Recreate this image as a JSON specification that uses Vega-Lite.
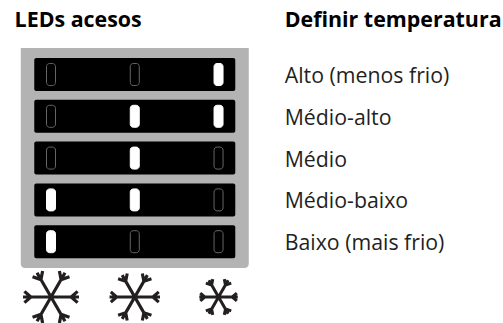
{"$schema":"https://vega.github.io/schema/vega-lite/v6.json","width":503,"height":323,"padding":0,"autosize":{"type":"none"},"background":"#ffffff","view":{"stroke":null},"config":{"axis":{"disable":true}},
"datasets":{
"leds":[{"nivel":5,"led":1,"estado":"apagado"},{"nivel":5,"led":2,"estado":"apagado"},{"nivel":5,"led":3,"estado":"aceso"},{"nivel":4,"led":1,"estado":"apagado"},{"nivel":4,"led":2,"estado":"aceso"},{"nivel":4,"led":3,"estado":"aceso"},{"nivel":3,"led":1,"estado":"apagado"},{"nivel":3,"led":2,"estado":"aceso"},{"nivel":3,"led":3,"estado":"apagado"},{"nivel":2,"led":1,"estado":"aceso"},{"nivel":2,"led":2,"estado":"aceso"},{"nivel":2,"led":3,"estado":"apagado"},{"nivel":1,"led":1,"estado":"aceso"},{"nivel":1,"led":2,"estado":"apagado"},{"nivel":1,"led":3,"estado":"apagado"}],
"niveis":[{"nivel":5,"rotulo":"Alto (menos frio)"},{"nivel":4,"rotulo":"Médio-alto"},{"nivel":3,"rotulo":"Médio"},{"nivel":2,"rotulo":"Médio-baixo"},{"nivel":1,"rotulo":"Baixo (mais frio)"}],
"flocos":[{"led":1},{"led":2},{"led":3}]},
"layer":[
{"data":{"values":[{"nivel":3}]},"mark":{"type":"rect","width":228,"height":220,"fill":"#b3b3b3","cornerRadiusBottomLeft":4,"cornerRadiusBottomRight":4},"encoding":{"x":{"datum":2,"type":"quantitative","scale":{"domain":[0.391,6.396],"range":[0,503],"nice":false,"zero":false},"axis":null},"y":{"field":"nivel","type":"quantitative","scale":{"domain":[-0.945,6.782],"range":[323,0],"nice":false,"zero":false},"axis":null}}},
{"data":{"name":"niveis"},"mark":{"type":"rect","width":201,"height":33,"fill":"#000000","cornerRadius":2},"encoding":{"x":{"datum":2,"type":"quantitative"},"y":{"field":"nivel","type":"quantitative"}}},
{"data":{"name":"leds"},"mark":{"type":"rect","width":9,"height":22,"cornerRadius":3,"strokeWidth":1},"encoding":{"x":{"field":"led","type":"quantitative"},"y":{"field":"nivel","type":"quantitative"},"fill":{"field":"estado","type":"nominal","scale":{"domain":["aceso","apagado"],"range":["#ffffff","#000000"]},"legend":null},"stroke":{"field":"estado","type":"nominal","scale":{"domain":["aceso","apagado"],"range":["#ffffff","#666666"]},"legend":null}}},
{"data":{"name":"flocos"},"mark":{"type":"point","filled":false,"opacity":1,"stroke":"#231f20","shape":"M-1 0L1 0M-.5 -.866L.5 .866M-.5 .866L.5 -.866M.72 0L.95 -.2M.72 0L.95 .2M-.72 0L-.95 -.2M-.72 0L-.95 .2M.36 .62L.3 .93M.36 .62L.66 .72M-.36 .62L-.3 .93M-.36 .62L-.66 .72M.36 -.62L.3 -.93M.36 -.62L.66 -.72M-.36 -.62L-.3 -.93M-.36 -.62L-.66 -.72"},"encoding":{"x":{"field":"led","type":"quantitative"},"y":{"datum":-0.323,"type":"quantitative"},"size":{"field":"led","type":"quantitative","scale":{"type":"linear","domain":[1,2,3],"range":[3136,2550,1480],"zero":false,"nice":false},"legend":null},"strokeWidth":{"field":"led","type":"quantitative","scale":{"domain":[1,3],"range":[3.2,3],"zero":false,"nice":false},"legend":null}}},
{"data":{"name":"niveis"},"mark":{"type":"text","align":"left","baseline":"alphabetic","dy":8.5,"font":"Open Sans","fontSize":21.3,"fill":"#231f20"},"encoding":{"x":{"datum":3.79,"type":"quantitative"},"y":{"field":"nivel","type":"quantitative"},"text":{"field":"rotulo"}}},
{"data":{"values":[{"led":0.565,"titulo":"LEDs acesos"},{"led":3.79,"titulo":"Definir temperatura"}]},"mark":{"type":"text","align":"left","baseline":"alphabetic","font":"Open Sans","fontWeight":"bold","fontSize":21.4,"fill":"#000000"},"encoding":{"x":{"field":"led","type":"quantitative"},"y":{"datum":6.14,"type":"quantitative"},"text":{"field":"titulo"}}}
]}
